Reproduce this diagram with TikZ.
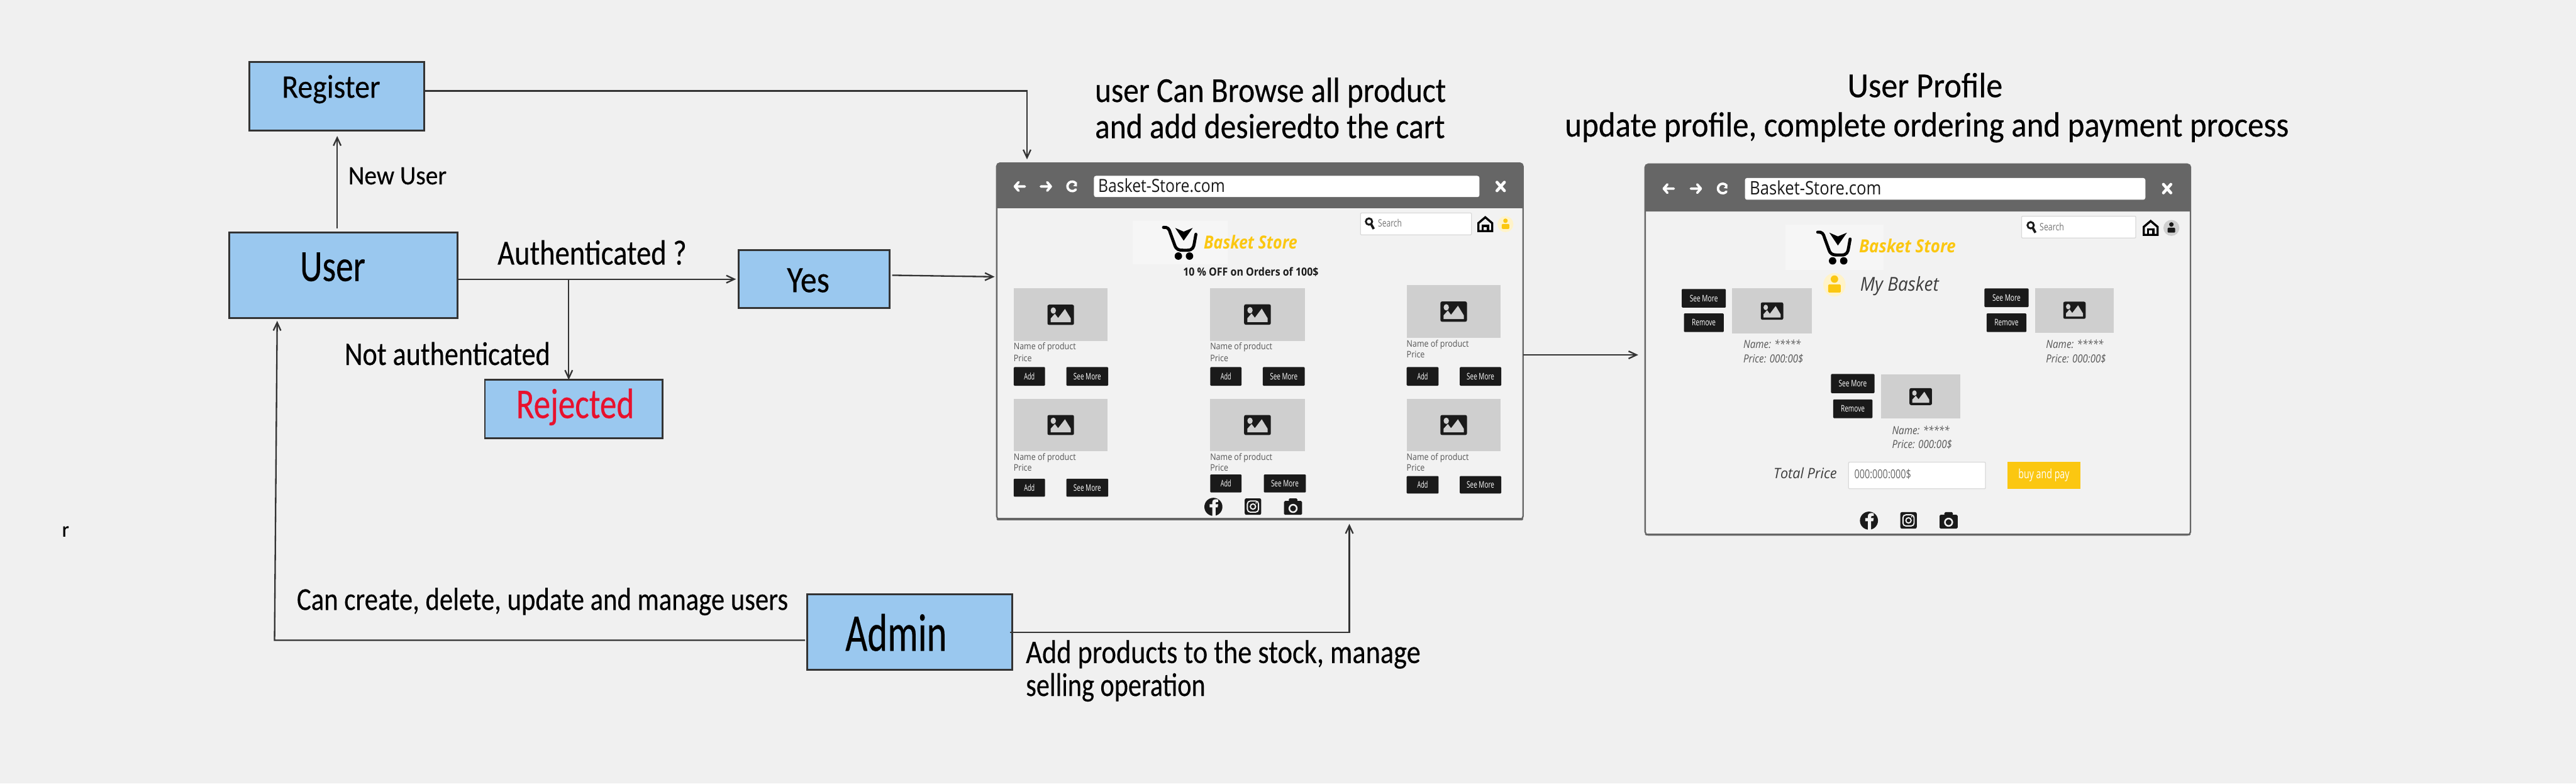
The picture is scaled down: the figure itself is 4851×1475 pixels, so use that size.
\documentclass[tikz,border=0pt]{standalone}
\usepackage{fontspec}
\usepackage{graphicx}
\usetikzlibrary{arrows.meta}
\newfontfamily\handf{Carlito}[FakeBold=0.35]
\newfontfamily\uif{Open Sans}
\definecolor{bgc}{HTML}{F0F0F0}
\definecolor{pagec}{HTML}{F2F2F2}
\definecolor{boxc}{HTML}{9AC8EF}
\definecolor{linec}{HTML}{333333}
\definecolor{barc}{HTML}{666666}
\definecolor{darkc}{HTML}{1A1A1A}
\definecolor{imgc}{HTML}{CFCFCF}
\definecolor{yelc}{HTML}{FBC711}
\definecolor{paley}{HTML}{FFF3C9}
\definecolor{redc}{HTML}{E8112D}
\definecolor{logoc}{HTML}{F6F6F6}
\definecolor{greytx}{HTML}{555555}
\newcounter{nid}
% text node: [opts]{font}{x}{baseline y}{width px}{size px}{text}
\newcommand\tx[7][]{%
  \stepcounter{nid}%
  \pgfmathsetlengthmacro\myfs{#6*0.2pt}%
  \pgfmathsetlengthmacro\myw{#5*0.2pt}%
  \node[name=t\thenid,anchor=base west,inner sep=0pt,outer sep=0pt,#1] at (#3,#4)
    {\resizebox{\myw}{\height}{#2\fontsize{\myfs}{\myfs}\selectfont #7}};}
% box node: {name}{x1}{y1}{x2}{y2}{style}{content}
\newcommand\bx[7]{%
  \node[name=#1,anchor=north west,inner sep=0pt,outer sep=0pt,
    minimum width={(#4-#2)*0.2pt},minimum height={(#5-#3)*0.2pt},#6] at (#2,#3) {#7};}
% dark button
\newcommand\btn[6]{%
  \stepcounter{nid}%
  \pgfmathsetlengthmacro\myw{#5*0.2pt}%
  \bx{b\thenid}{#1}{#2}{#3}{#4}{fill=darkc,text=white,rounded corners=0.3pt}
    {\resizebox{\myw}{\height}{\uif\fontsize{3.4pt}{3.4pt}\selectfont #6}}}
% picture placeholder
\newcommand\pimg[4]{%
  \fill[imgc] (#1,#2) rectangle (#3,#4);
  \begin{scope}[shift={({(#1+#3)/2},{(#2+#4)/2})},xscale={(#3-#1)/177},yscale={(#4-#2)/99}]
    \fill[darkc,rounded corners=0.6pt] (-25,-19) rectangle (25,19);
    \fill[imgc] (-14,-8) circle[x radius=5,y radius=6];
    \fill[imgc] (-19,14) -- (-19,7) -- (-11,-2) -- (-5,6) -- (8,-11) -- (19,7) -- (19,14) -- cycle;
  \end{scope}}
% person
\newcommand\person[4]{% x y radius colour
  \fill[#4] (#1,{#2-0.38*#3}) circle[radius={0.25*#3}];
  \fill[#4,rounded corners=0.3pt] ({#1-0.42*#3},{#2+0.52*#3}) -- ({#1-0.42*#3},{#2-0.02*#3}) -- ({#1+0.42*#3},{#2-0.02*#3}) -- ({#1+0.42*#3},{#2+0.52*#3}) -- cycle;}
% home icon
\newcommand\home[2]{% cx, top
  \begin{scope}[shift={(#1,#2)}]
    \draw[black,line width=0.8pt,line join=miter] (-13,27) -- (-13,12) -- (0,1) -- (13,12) -- (13,27) -- cycle;
    \draw[black,line width=0.8pt] (-5,27) -- (-5,17) -- (5,17) -- (5,27);
  \end{scope}}
% magnifier
\newcommand\magn[2]{%
  \draw[darkc,line width=0.7pt] (#1,#2) circle[radius=6];
  \draw[darkc,line width=0.9pt] ({#1+4},{#2+5}) -- ({#1+9},{#2+14});}
% browser bar icons
\newcommand\baricons[5]{% left right reload close y
  \begin{scope}[white,line width=0.9pt,line cap=round,line join=round]
    \draw (#1+10,#5) -- (#1-9,#5) (#1-2,#5-8) -- (#1-9,#5) -- (#1-2,#5+8);
    \draw (#2-10,#5) -- (#2+9,#5) (#2+2,#5-8) -- (#2+9,#5) -- (#2+2,#5+8);
    \draw (#3+7,#5-6) arc[start angle=-40,end angle=-320,radius=9];
    \fill (#3+9,#5-8) -- (#3+9,#5) -- (#3+2,#5-1) -- cycle;
    \draw[line width=1.1pt] (#4-7,#5-8) -- (#4+7,#5+8) (#4+7,#5-8) -- (#4-7,#5+8);
  \end{scope}}
% browser window frame: name x1 y1 x2 yh y2
\newcommand\browser[6]{%
  \bx{#1}{#2}{#3}{#4}{#6}{fill=pagec,draw=barc,line width=0.55pt,rounded corners=1.2pt}{}
  \fill[barc] (#2,#5) {[rounded corners=1.2pt] -- (#2,#3) -- (#4,#3)} -- (#4,#5) -- cycle;
  \draw[barc,line width=0.9pt,line cap=round] (#2+2,#6-1) -- (#4-2,#6-1);}
% cart logo, given by its shift
\newcommand\cart[2]{%
  \begin{scope}[shift={(#1,#2)}]
    \draw[black,line width=1.15pt,line cap=round,line join=round]
      (2191,428) .. controls (2199,427) and (2202,431) .. (2204,439)
      -- (2212,461) .. controls (2215,470) and (2220,471) .. (2228,471)
      -- (2236,471) .. controls (2246,471) and (2248,465) .. (2249,458) -- (2252,441);
    \fill[black] (2213,429) -- (2229,436) -- (2246,429) -- (2229,453) -- cycle;
    \fill[black] (2219,482) circle[radius=7] (2240,482) circle[radius=7];
  \end{scope}}
% social icons, given by a shift
\newcommand\social[2]{%
  \begin{scope}[shift={(#1,#2)}]
    \fill[darkc] (2285,954) circle[radius=17];
    \fill[pagec] (2283,971) -- (2283,955) -- (2278,955) -- (2278,949) -- (2283,949) -- (2283,945)
      .. controls (2283,940) and (2288,939) .. (2294,940) -- (2294,945) -- (2291,945)
      .. controls (2289,945) and (2289,946) .. (2289,949) -- (2294,949) -- (2293,955) -- (2289,955) -- (2289,971) -- cycle;
    \fill[darkc,rounded corners=0.6pt] (2344,938) rectangle (2375,969);
    \draw[pagec,line width=0.45pt,rounded corners=1.1pt] (2349,943) rectangle (2370,964);
    \draw[pagec,line width=0.45pt] (2359.5,953.5) circle[radius=5];
    \fill[pagec] (2365.5,946.5) circle[radius=1.4];
    \fill[darkc,rounded corners=0.4pt] (2418,943) rectangle (2452,969);
    \fill[darkc,rounded corners=0.4pt] (2427,938) rectangle (2443,950);
    \draw[pagec,line width=0.6pt] (2435,957) circle[radius=7];
  \end{scope}}
\tikzset{
  flow/.style={fill=boxc,draw=linec,line width=0.65pt},
  conn/.style={draw=linec,line width=0.55pt},
  arr/.style={conn,-{Straight Barb[length=3pt,width=2.8pt]}},
  field/.style={fill=white,draw=black!15,line width=0.3pt,rounded corners=0.3pt},
}
\begin{document}
\begin{tikzpicture}[x=0.2pt,y=-0.2pt]
\useasboundingbox (0,0) rectangle (4851,1475);
\fill[bgc] (0,0) rectangle (4851,1475);

% ---------- flow boxes
\bx{register}{470}{117}{799}{246}{flow}{}
\bx{user}{432}{438}{862}{599}{flow}{}
\bx{yes}{1391}{471}{1675}{580}{flow}{}
\bx{rejected}{913}{715}{1248}{825}{flow}{}
\bx{admin}{1520}{1119}{1906}{1261}{flow}{}

% ---------- browser windows
\browser{shop}{1877}{307}{2868}{392}{978}
\browser{profile}{3098}{309}{4125}{398}{1007}

% ---------- connector guides
\coordinate (ux) at (635,0);
\coordinate (rl) at (1934,171);
\coordinate (bx) at (1071,0);
\coordinate (ya) at (0,518);
\coordinate (yb) at (0,521);
\coordinate (sp) at (0,668);
\coordinate (al) at (0,1205);
\coordinate (lxa) at (517,0);
\coordinate (lxb) at (522,0);
\coordinate (ar) at (0,1190);
\coordinate (rx) at (2541,0);

\draw[arr,shorten <=1.6pt,shorten >=2pt] (ux |- user.north) -- (ux |- register.south);
\draw[arr,shorten >=1.4pt] (register.east |- rl) -- (rl) -- (rl |- shop.north);
\draw[arr,shorten >=1pt] (user.east |- yes.west) -- (yes.west);
\draw[arr] (bx |- yes.west) -- (bx |- rejected.north);
\draw[arr,shorten <=1pt,shorten >=0.8pt] (yes.east |- ya) -- (shop.west |- yb);
\draw[arr,shorten >=2.6pt] (shop.east |- sp) -- (profile.west |- sp);
\draw[arr,shorten <=0.8pt,shorten >=1pt] (admin.west |- al) -- (lxa |- al) -- (lxb |- user.south);
\draw[arr,shorten <=-0.8pt,shorten >=1.6pt] (admin.east |- ar) -- (rx |- ar) -- (rx |- shop.south);

% ---------- flow labels
\tx{\handf}{531}{184}{185}{62}{Register}
\tx{\handf}{656}{347}{185}{50}{New User}
\tx{\handf}{565}{529}{123}{84}{User}
\tx{\handf}{937}{498}{356}{66}{Authenticated ?}
\tx{\handf}{1482}{550}{80}{70}{Yes}
\tx{\handf}{649}{687}{387}{62}{Not authenticated}
\tx[text=redc]{\handf}{972}{787}{222}{80}{Rejected}
\tx{\handf}{117}{1010}{13}{40}{r}
\tx{\handf}{559}{1148}{925}{60}{Can create, delete, update and manage users}
\tx{\handf}{1592}{1225}{191}{100}{Admin}
\tx{\handf}{1932}{1248}{743}{62}{Add products to the stock, manage}
\tx{\handf}{1932}{1310}{338}{62}{selling operation}
\tx{\handf}{2062}{192}{661}{66}{user Can Browse all product}
\tx{\handf}{2062}{260}{659}{66}{and add desieredto the cart}
\tx{\handf}{3479}{183}{292}{66}{User Profile}
\tx{\handf}{2947}{257}{1363}{66}{update profile, complete ordering and payment process}

% ---------- shop window
\bx{urlA}{2060}{331}{2786}{371}{fill=white,rounded corners=0.8pt}{}
\baricons{1920}{1970}{2019}{2826}{351}
\tx[text=darkc]{\uif}{2068}{362}{239}{34}{Basket-Store.com}
\bx{searchA}{2562}{401}{2771}{442}{field}{}
\magn{2578}{417}
\tx[text=black!55]{\uif}{2595}{427}{45}{19}{Search}
\home{2797}{408}
\fill[paley] (2835,422) circle[x radius=15,y radius=15];
\person{2835}{422}{17}{yelc}
\fill[logoc] (2133,416) rectangle (2312,497);
\cart{0}{0}
\tx[text=yelc]{\uif\bfseries\itshape}{2267}{468}{176}{34}{Basket Store}
\tx[text=darkc]{\uif\bfseries}{2228}{519}{255}{21}{10 \% OFF on Orders of 100\$}

\pimg{1909}{543}{2086}{642}
\pimg{2279}{542}{2457}{642}
\pimg{2649}{537}{2826}{636}
\pimg{1909}{751}{2086}{849}
\pimg{2279}{751}{2457}{849}
\pimg{2649}{751}{2826}{849}

\tx[text=greytx]{\uif}{1909}{658}{117}{17}{Name of product}
\tx[text=greytx]{\uif}{1909}{680}{34}{17}{Price}
\tx[text=greytx]{\uif}{2279}{658}{117}{17}{Name of product}
\tx[text=greytx]{\uif}{2279}{680}{34}{17}{Price}
\tx[text=greytx]{\uif}{2649}{653}{117}{17}{Name of product}
\tx[text=greytx]{\uif}{2649}{673}{34}{17}{Price}
\tx[text=greytx]{\uif}{1909}{866}{117}{17}{Name of product}
\tx[text=greytx]{\uif}{1909}{887}{34}{17}{Price}
\tx[text=greytx]{\uif}{2279}{866}{117}{17}{Name of product}
\tx[text=greytx]{\uif}{2279}{887}{34}{17}{Price}
\tx[text=greytx]{\uif}{2649}{866}{117}{17}{Name of product}
\tx[text=greytx]{\uif}{2649}{887}{34}{17}{Price}

\btn{1909}{691}{1968}{726}{20}{Add}
\btn{2008}{691}{2087}{726}{52}{See More}
\btn{2279}{691}{2338}{726}{20}{Add}
\btn{2378}{691}{2457}{726}{52}{See More}
\btn{2649}{691}{2709}{726}{20}{Add}
\btn{2749}{691}{2827}{726}{52}{See More}
\btn{1909}{901}{1968}{935}{20}{Add}
\btn{2008}{901}{2087}{935}{52}{See More}
\btn{2279}{893}{2338}{927}{20}{Add}
\btn{2380}{893}{2459}{927}{52}{See More}
\btn{2649}{896}{2709}{929}{20}{Add}
\btn{2749}{896}{2827}{929}{52}{See More}
\social{0}{0}

% ---------- profile window
\bx{urlB}{3286}{335}{4040}{376}{fill=white,rounded corners=0.8pt}{}
\baricons{3142}{3194}{3244}{4081}{355}
\tx[text=darkc]{\uif}{3295}{366}{248}{35}{Basket-Store.com}
\bx{searchB}{3807}{407}{4022}{448}{field}{}
\magn{3824}{424}
\tx[text=black!55]{\uif}{3841}{434}{46}{19}{Search}
\home{4050}{415}
\fill[imgc] (4089,429) circle[radius=15];
\person{4089}{429}{17}{darkc}
\fill[logoc] (3362,423) rectangle (3547,508);
\cart{1232}{9}
\tx[text=yelc]{\uif\bfseries\itshape}{3501}{476}{182}{34}{Basket Store}
\fill[paley] (3454.5,536) circle[x radius=21,y radius=22];
\person{3454.5}{536}{28}{yelc}
\tx[text=darkc!85]{\uif\itshape}{3503}{548}{148}{36}{My Basket}

\pimg{3262}{543}{3412}{628}
\btn{3167}{544}{3250}{579}{53}{See More}
\btn{3171}{590}{3246}{625}{45}{Remove}
\tx[text=greytx]{\uif\itshape}{3283}{656}{108}{21}{Name: *****}
\tx[text=greytx]{\uif\itshape}{3283}{683}{113}{21}{Price: 000:00\$}

\pimg{3832}{542}{3981}{626}
\btn{3737}{543}{3820}{578}{53}{See More}
\btn{3741}{590}{3816}{625}{45}{Remove}
\tx[text=greytx]{\uif\itshape}{3853}{656}{108}{21}{Name: *****}
\tx[text=greytx]{\uif\itshape}{3853}{683}{113}{21}{Price: 000:00\$}

\pimg{3542}{705}{3692}{788}
\btn{3448}{704}{3530}{740}{53}{See More}
\btn{3452}{752}{3526}{787}{45}{Remove}
\tx[text=greytx]{\uif\itshape}{3563}{818}{108}{21}{Name: *****}
\tx[text=greytx]{\uif\itshape}{3563}{844}{113}{21}{Price: 000:00\$}

\tx[text=darkc!85]{\uif\itshape}{3340}{901}{119}{27}{Total Price}
\bx{totalbox}{3481}{870}{3739}{920}{field}{}
\tx[text=black!60]{\uif}{3492}{901}{107}{23}{000:000:000\$}
\bx{paybtn}{3780}{869}{3918}{920}{fill=yelc}{}
\tx[text=white]{\uif}{3801}{901}{96}{24}{buy and pay}
\social{1234.5}{26}
\end{tikzpicture}
\end{document}
